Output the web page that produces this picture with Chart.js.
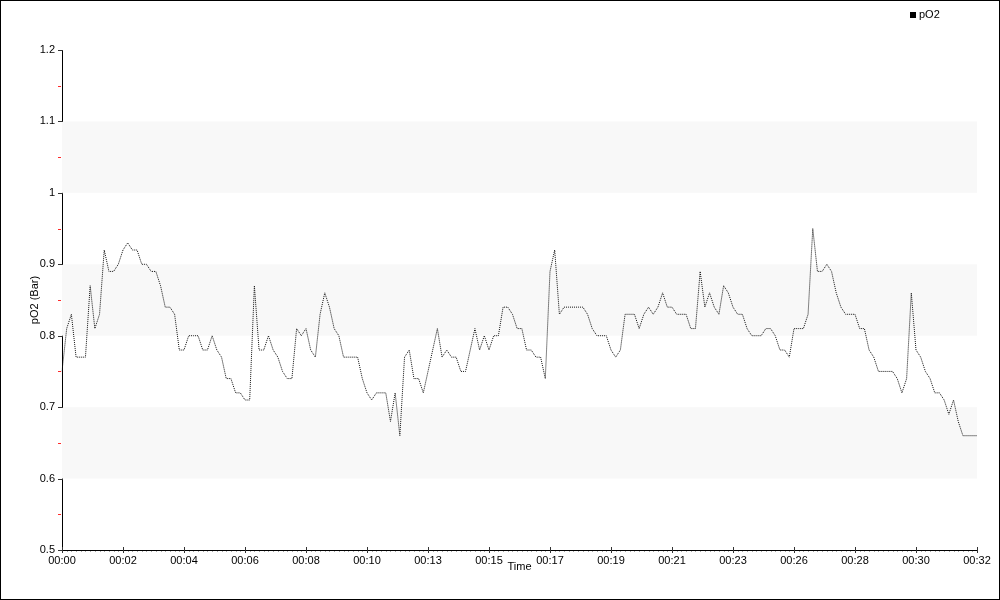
<!DOCTYPE html>
<html lang="en">
<head>
    <meta charset="UTF-8">
    <title>pO2 - Chart.js</title>
    <script src="https://cdn.jsdelivr.net/npm/chart.js"></script>
    <style>
        body {
            margin: 0;
            background-color: #ffffff;
        }
        #chart-container {
            position: relative;
            width: 1000px;
            height: 600px;
        }
    </style>
</head>
<body>
    <div id="chart-container">
        <canvas id="chart"></canvas>
    </div>

    <script>
        // pO2 samples, one every 10 s
        const pO2 = [
            0.75, 0.81, 0.83, 0.77, 0.77, 0.77, 0.87, 0.81, 0.83, 0.92,
            0.89, 0.89, 0.90, 0.92, 0.93, 0.92, 0.92, 0.90, 0.90, 0.89,
            0.89, 0.87, 0.84, 0.84, 0.83, 0.78, 0.78, 0.80, 0.80, 0.80,
            0.78, 0.78, 0.80, 0.78, 0.77, 0.74, 0.74, 0.72, 0.72, 0.71,
            0.71, 0.87, 0.78, 0.78, 0.80, 0.78, 0.77, 0.75, 0.74, 0.74,
            0.81, 0.80, 0.81, 0.78, 0.77, 0.83, 0.86, 0.84, 0.81, 0.80,
            0.77, 0.77, 0.77, 0.77, 0.74, 0.72, 0.71, 0.72, 0.72, 0.72,
            0.68, 0.72, 0.66, 0.77, 0.78, 0.74, 0.74, 0.72, 0.75, 0.78,
            0.81, 0.77, 0.78, 0.77, 0.77, 0.75, 0.75, 0.78, 0.81, 0.78,
            0.80, 0.78, 0.80, 0.80, 0.84, 0.84, 0.83, 0.81, 0.81, 0.78,
            0.78, 0.77, 0.77, 0.74, 0.89, 0.92, 0.83, 0.84, 0.84, 0.84,
            0.84, 0.84, 0.83, 0.81, 0.80, 0.80, 0.80, 0.78, 0.77, 0.78,
            0.83, 0.83, 0.83, 0.81, 0.83, 0.84, 0.83, 0.84, 0.86, 0.84,
            0.84, 0.83, 0.83, 0.83, 0.81, 0.81, 0.89, 0.84, 0.86, 0.84,
            0.83, 0.87, 0.86, 0.84, 0.83, 0.83, 0.81, 0.80, 0.80, 0.80,
            0.81, 0.81, 0.80, 0.78, 0.78, 0.77, 0.81, 0.81, 0.81, 0.83,
            0.95, 0.89, 0.89, 0.90, 0.89, 0.86, 0.84, 0.83, 0.83, 0.83,
            0.81, 0.81, 0.78, 0.77, 0.75, 0.75, 0.75, 0.75, 0.74, 0.72,
            0.74, 0.86, 0.78, 0.77, 0.75, 0.74, 0.72, 0.72, 0.71, 0.69,
            0.71, 0.68, 0.66, 0.66, 0.66, 0.66
        ];

        // x tick labels, one every 13 samples
        const timeTicks = [
            '00:00', '00:02', '00:04', '00:06', '00:08', '00:10', '00:13', '00:15',
            '00:17', '00:19', '00:21', '00:23', '00:26', '00:28', '00:30', '00:32'
        ];
        const tickEvery = 13;

        const yMajor = [0.5, 0.6, 0.7, 0.8, 0.9, 1.0, 1.1, 1.2];
        const yMinor = [0.55, 0.65, 0.75, 0.85, 0.95, 1.05, 1.15];

        // shaded bands on the plot
        const bands = [[1.0, 1.1], [0.8, 0.9], [0.6, 0.7]];

        const FONT = { family: "'Liberation Sans', Arial, sans-serif", size: 11 };

        const decor = {
            id: 'decor',
            beforeDatasetsDraw(chart) {
                const { ctx, chartArea: a, scales: { y } } = chart;
                ctx.save();
                ctx.fillStyle = '#f8f8f8';
                bands.forEach(([lo, hi]) => {
                    const top = y.getPixelForValue(hi);
                    const bot = y.getPixelForValue(lo);
                    ctx.fillRect(a.left, top, a.right - a.left, bot - top);
                });
                ctx.restore();
            },
            afterDraw(chart) {
                const { ctx, chartArea: a, scales: { x, y } } = chart;
                ctx.save();
                ctx.lineWidth = 1;

                // y ticks
                ctx.strokeStyle = '#333';
                yMajor.forEach(v => {
                    const py = Math.round(y.getPixelForValue(v)) + 0.5;
                    ctx.beginPath();
                    ctx.moveTo(a.left - 4, py);
                    ctx.lineTo(a.left + 1, py);
                    ctx.stroke();
                });
                ctx.strokeStyle = '#ff2a2a';
                yMinor.forEach(v => {
                    const py = Math.round(y.getPixelForValue(v)) + 0.5;
                    ctx.beginPath();
                    ctx.moveTo(a.left - 4, py);
                    ctx.lineTo(a.left - 1, py);
                    ctx.stroke();
                });

                // x minor ticks at every sample, major every 13
                ctx.strokeStyle = '#aaa';
                pO2.forEach((_, i) => {
                    const px = Math.round(x.getPixelForValue(i)) + 0.5;
                    ctx.beginPath();
                    ctx.moveTo(px, a.bottom + 1);
                    ctx.lineTo(px, a.bottom + 2);
                    ctx.stroke();
                });
                ctx.strokeStyle = '#333';
                timeTicks.forEach((_, k) => {
                    const px = Math.round(x.getPixelForValue(k * tickEvery)) + 0.5;
                    ctx.beginPath();
                    ctx.moveTo(px, a.bottom - 3);
                    ctx.lineTo(px, a.bottom + 3);
                    ctx.stroke();
                });

                // legend
                const ds = chart.data.datasets[0];
                ctx.fillStyle = '#000';
                ctx.fillRect(910, 12, 6, 6);
                ctx.font = `${FONT.size}px ${FONT.family}`;
                ctx.textBaseline = 'middle';
                ctx.textAlign = 'left';
                ctx.fillText(ds.label, 919, 15);

                // outer frame
                ctx.strokeStyle = '#000';
                ctx.strokeRect(0.5, 0.5, chart.width - 1, chart.height - 1);
                ctx.restore();
            }
        };

        const ctx = document.getElementById('chart').getContext('2d');
        const chart = new Chart(ctx, {
            type: 'line',
            data: {
                labels: pO2.map((_, i) => i),
                datasets: [{
                    label: 'pO2',
                    data: pO2,
                    borderColor: '#111',
                    borderWidth: 1,
                    borderDash: [1, 1],
                    pointRadius: 0,
                    fill: false,
                    tension: 0
                }]
            },
            options: {
                responsive: true,
                maintainAspectRatio: false,
                animation: false,
                layout: { padding: { top: 50, right: 23, left: 0, bottom: 0 } },
                plugins: {
                    legend: { display: false },
                    tooltip: { enabled: false }
                },
                scales: {
                    x: {
                        type: 'category',
                        grid: { display: false, drawTicks: false },
                        border: { display: true, color: '#000' },
                        ticks: {
                            autoSkip: false,
                            maxRotation: 0,
                            padding: 4,
                            color: '#000',
                            font: FONT,
                            callback: v => timeTicks[v / tickEvery]
                        },
                        afterBuildTicks: s => {
                            s.ticks = s.ticks.filter(t => t.value % tickEvery === 0);
                        },
                        afterFit: s => { s.height = 50; },
                        title: {
                            display: true,
                            text: 'Time',
                            color: '#000',
                            font: FONT,
                            padding: { top: 0, bottom: 26 }
                        }
                    },
                    y: {
                        min: 0.5,
                        max: 1.2,
                        grid: { display: false, drawTicks: false },
                        border: { display: true, color: '#000' },
                        ticks: {
                            stepSize: 0.1,
                            padding: 7,
                            color: '#000',
                            font: FONT,
                            callback: v => String(Math.round(v * 10) / 10)
                        },
                        afterFit: s => { s.width = 62; },
                        title: {
                            display: true,
                            text: 'pO2 (Bar)',
                            color: '#000',
                            font: FONT,
                            padding: { top: 28, bottom: 0 }
                        }
                    }
                }
            },
            plugins: [decor]
        });
    </script>
</body>
</html>
